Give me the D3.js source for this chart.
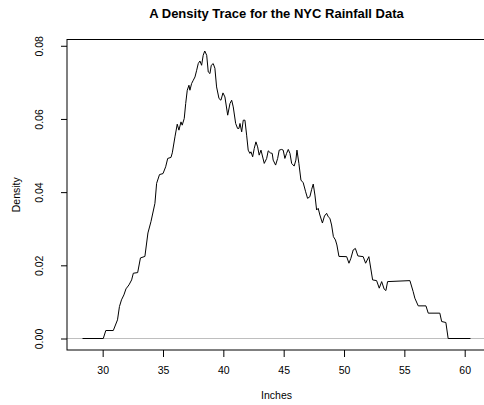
<!DOCTYPE html>
<html>
<head>
<meta charset="utf-8">
<script src="https://cdn.jsdelivr.net/npm/d3@7"></script>
<style>
  body { margin: 0; background: #fff; }
  svg { display: block; font-family: "Liberation Sans", Arial, sans-serif; }
</style>
</head>
<body>
<div id="chart"></div>
<script>
// density trace (inches, density)
const inches = [28.33, 30.05, 30.26, 30.88, 31.23, 31.39, 31.56, 31.76, 31.93, 32.18, 32.40, 32.54, 32.90, 33.13, 33.50, 33.75, 34.00, 34.33, 34.47, 34.71,
  35.00, 35.22, 35.39, 35.66, 35.77, 35.99, 36.18, 36.32, 36.49, 36.59, 36.76, 36.88, 37.01, 37.15, 37.23, 37.37, 37.51, 37.65, 37.79, 37.92,
  38.06, 38.20, 38.33, 38.46, 38.62, 38.75, 38.89, 39.00, 39.16, 39.30, 39.44, 39.64, 39.80, 39.97, 40.13, 40.36, 40.55, 40.69, 40.82, 41.02,
  41.18, 41.29, 41.38, 41.52, 41.65, 41.79, 41.93, 42.06, 42.20, 42.29, 42.43, 42.56, 42.70, 42.84, 42.97, 43.12, 43.39, 43.59, 43.72, 43.89,
  44.05, 44.13, 44.33, 44.50, 44.63, 44.83, 44.96, 45.10, 45.24, 45.38, 45.52, 45.66, 45.87, 46.01, 46.10, 46.26, 46.43, 46.62, 46.82, 46.98,
  47.17, 47.32, 47.45, 47.59, 47.73, 47.86, 48.00, 48.21, 48.38, 48.56, 48.69, 48.83, 48.97, 49.12, 49.29, 49.41, 49.58, 50.22, 50.41, 50.57,
  50.76, 50.94, 51.15, 51.59, 51.79, 52.06, 52.37, 52.70, 52.92, 53.12, 53.33, 53.47, 53.61, 55.46, 55.73, 55.87, 56.15, 56.79, 56.98, 57.94,
  58.09, 58.44, 58.63, 60.48];
const density = [0, 0, 0.00218, 0.00218, 0.0051, 0.00873, 0.01056, 0.01192, 0.01356, 0.01465, 0.01601, 0.01784, 0.01801, 0.02202, 0.02243, 0.02884, 0.03192, 0.03694, 0.0424, 0.0448,
  0.04507, 0.04692, 0.04921, 0.04949, 0.05074, 0.05511, 0.05857, 0.05694, 0.0592, 0.0583, 0.06013, 0.06422, 0.06785, 0.06921, 0.06785, 0.06967, 0.07058, 0.07148, 0.07331, 0.07513,
  0.07584, 0.07467, 0.0774, 0.07857, 0.0774, 0.07284, 0.0724, 0.07467, 0.07513, 0.07385, 0.06875, 0.06558, 0.06512, 0.06712, 0.06602, 0.06103, 0.06422, 0.06512, 0.0633, 0.05877,
  0.0574, 0.0574, 0.05877, 0.05648, 0.05966, 0.05966, 0.05557, 0.05148, 0.05058, 0.05102, 0.04965, 0.05194, 0.05374, 0.05238, 0.05011, 0.05148, 0.04785, 0.04921, 0.05129, 0.05074,
  0.05058, 0.04875, 0.04739, 0.04921, 0.05148, 0.05167, 0.05148, 0.04921, 0.05058, 0.05167, 0.05058, 0.04785, 0.04712, 0.04875, 0.05148, 0.04785, 0.0433, 0.04256, 0.0401, 0.0383,
  0.03874, 0.04076, 0.0422, 0.0392, 0.03511, 0.03558, 0.03375, 0.03156, 0.03347, 0.03421, 0.03328, 0.03285, 0.03102, 0.02783, 0.02693, 0.02556, 0.02243, 0.02237, 0.02057, 0.02193,
  0.0242, 0.02461, 0.02256, 0.02237, 0.02057, 0.02237, 0.01601, 0.01582, 0.01375, 0.01555, 0.01348, 0.0131, 0.01555, 0.01582, 0.01282, 0.01102, 0.00892, 0.00892, 0.00693, 0.00693,
  0.00464, 0.00437, 0, 0];

const xTicks = [30, 35, 40, 45, 50, 55, 60];
const yTicks = [0, 0.02, 0.04, 0.06, 0.08];

const W = 484, H = 405;
const margin = { top: 39.5, right: -2, bottom: 55, left: 67 };
const width = W - margin.left - margin.right;
const height = H - margin.top - margin.bottom;

const pts = inches.map((x, i) => ({ x: x, y: density[i] }));

// R style: 4% padding on both axes
const xr = d3.extent(inches), yr = d3.extent(density);
const xPad = (xr[1] - xr[0]) * 0.04, yPad = (yr[1] - yr[0]) * 0.04;

const x = d3.scaleLinear().domain([xr[0] - xPad, xr[1] + xPad]).range([0, width]);
const y = d3.scaleLinear().domain([yr[0] - yPad, yr[1] + yPad]).range([height, 0]);

const svg = d3.select("#chart").append("svg")
    .attr("width", W)
    .attr("height", H);

const g = svg.append("g")
    .attr("transform", "translate(" + margin.left + "," + margin.top + ")");

// gray zero line
g.append("line")
    .attr("x1", 0).attr("x2", width)
    .attr("y1", y(0)).attr("y2", y(0))
    .attr("stroke", "#bebebe")
    .attr("stroke-width", 1);

g.append("path")
    .datum(pts)
    .attr("fill", "none")
    .attr("stroke", "#000")
    .attr("stroke-width", 1)
    .attr("d", d3.line().x(d => x(d.x)).y(d => y(d.y)));

// box
g.append("rect")
    .attr("x", 0).attr("y", 0)
    .attr("width", width).attr("height", height)
    .attr("fill", "none")
    .attr("stroke", "#000")
    .attr("stroke-width", 1);

const xAxis = g.append("g")
    .attr("transform", "translate(0," + height + ")")
    .call(d3.axisBottom(x).tickValues(xTicks).tickSize(7).tickPadding(10).tickFormat(d3.format("d")));
xAxis.select(".domain").remove();
xAxis.selectAll("text").style("font-size", "10.5px").attr("fill", "#000");

const yAxis = g.append("g")
    .call(d3.axisLeft(y).tickValues(yTicks).tickSize(6).tickFormat(d3.format(".2f")));
yAxis.select(".domain").remove();
yAxis.selectAll("text")
    .style("font-size", "10.5px")
    .attr("fill", "#000")
    .attr("x", null).attr("dy", null)
    .attr("text-anchor", "middle")
    .attr("transform", "translate(-23.7,0) rotate(-90)");

svg.append("text")
    .attr("x", margin.left + width / 2)
    .attr("y", 18)
    .attr("text-anchor", "middle")
    .style("font-size", "13px")
    .style("font-weight", "bold")
    .text("A Density Trace for the NYC Rainfall Data");

svg.append("text")
    .attr("x", margin.left + width / 2)
    .attr("y", 399)
    .attr("text-anchor", "middle")
    .style("font-size", "10.5px")
    .text("Inches");

svg.append("text")
    .attr("transform", "translate(20," + (margin.top + height / 2) + ") rotate(-90)")
    .attr("text-anchor", "middle")
    .style("font-size", "10.5px")
    .text("Density");
</script>
</body>
</html>
